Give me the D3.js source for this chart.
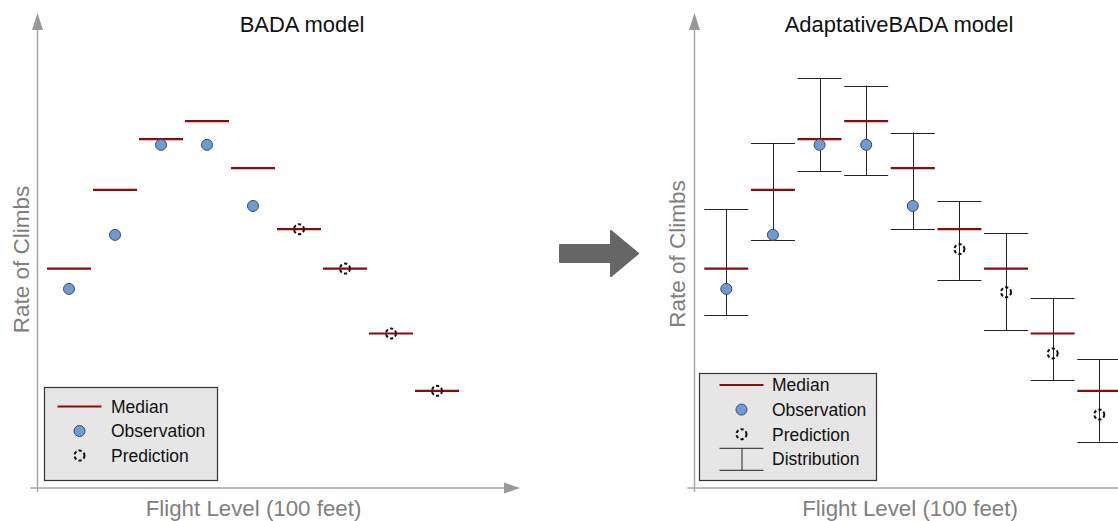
<!DOCTYPE html>
<html>
<head>
<meta charset="utf-8">
<script src="https://cdn.jsdelivr.net/npm/d3@7"></script>
<style>
  body { margin: 0; background: #fff; }
  svg { display: block; font-family: "Liberation Sans", Arial, sans-serif; }
</style>
</head>
<body>
<svg width="1118" height="521"></svg>
<script>
// donnees (unites arbitraires)
const levels = ["FL1", "FL2", "FL3", "FL4", "FL5", "FL6", "FL7", "FL8", "FL9"];
const medians = [46.3, 62.9, 73.6, 77.4, 67.5, 54.6, 46.3, 32.6, 20.5];
const observations = [42.0, 53.4, 72.4, 72.4, 59.5, null, null, null, null];
const predictionsBada = [null, null, null, null, null, 54.6, 46.3, 32.6, 20.5];
const predictionsAdaptive = [null, null, null, null, null, 50.4, 41.3, 28.4, 15.5];
const distLow = [36.5, 52.4, 66.8, 66.0, 54.6, 43.9, 33.3, 22.7, 9.8];
const distHigh = [58.8, 72.8, 86.5, 84.9, 75.0, 60.5, 53.8, 40.1, 27.2];

const titles = ["BADA model", "AdaptativeBADA model"];
const xLabel = "Flight Level (100 feet)";
const yLabel = "Rate of Climbs";

const svg = d3.select("svg");
const medianColor = "#8b0a0a";
const obsColor = "#6f9bd2";
const axisColor = "#a6a6a6";
const labelColor = "#7f7f7f";

// echelle Y commune
const y = d3.scaleLinear().domain([0, 100]).range([488, 14]);

function drawPanel(opts) {
  const g = svg.append("g");
  const x = d3.scalePoint().domain(levels).range([opts.x0, opts.x1]);
  const half = opts.half;

  // axes avec fleches
  g.append("line")
    .attr("x1", opts.axisX).attr("x2", opts.axisX)
    .attr("y1", 492).attr("y2", 28)
    .attr("stroke", axisColor).attr("stroke-width", 1.5);
  g.append("path")
    .attr("d", `M${opts.axisX - 5.5},30 L${opts.axisX},13 L${opts.axisX + 5.5},30 Z`)
    .attr("fill", "#999");
  g.append("line")
    .attr("x1", opts.axisX - 7).attr("x2", opts.xEnd - 15)
    .attr("y1", 488).attr("y2", 488)
    .attr("stroke", axisColor).attr("stroke-width", 1.5);
  g.append("path")
    .attr("d", `M${opts.xEnd - 16},482.5 L${opts.xEnd},488 L${opts.xEnd - 16},493.5 Z`)
    .attr("fill", "#999");

  // titre et libelles
  g.append("text")
    .attr("x", opts.titleX).attr("y", 32)
    .attr("text-anchor", "middle")
    .attr("font-size", 22).attr("fill", "#111")
    .text(opts.title);
  g.append("text")
    .attr("x", opts.xLabelX).attr("y", 516)
    .attr("text-anchor", "middle")
    .attr("font-size", 22.3).attr("fill", labelColor)
    .text(xLabel);
  g.append("text")
    .attr("transform", `translate(${opts.yLabelX},${opts.yLabelY}) rotate(-90)`)
    .attr("text-anchor", "middle")
    .attr("dy", "0.35em")
    .attr("font-size", 22.5).attr("fill", labelColor)
    .text(yLabel);

  // distribution (moustaches)
  if (opts.dist) {
    const wh = g.append("g").attr("stroke", "#222").attr("stroke-width", 1);
    levels.forEach((c, i) => {
      const cx = Math.round(x(c)) + 0.5;
      wh.append("line").attr("x1", cx).attr("x2", cx)
        .attr("y1", y(distLow[i])).attr("y2", y(distHigh[i]));
      [distLow[i], distHigh[i]].forEach(v => {
        wh.append("line")
          .attr("x1", x(c) - half).attr("x2", x(c) + half)
          .attr("y1", Math.round(y(v)) + 0.5).attr("y2", Math.round(y(v)) + 0.5);
      });
    });
  }

  // medianes
  g.selectAll(".median").data(medians).join("line")
    .attr("class", "median")
    .attr("x1", (d, i) => x(levels[i]) - half)
    .attr("x2", (d, i) => x(levels[i]) + half)
    .attr("y1", d => y(d)).attr("y2", d => y(d))
    .attr("stroke", medianColor).attr("stroke-width", 2.2);

  // observations
  g.selectAll(".obs").data(observations.map((v, i) => ({ c: levels[i], v })).filter(d => d.v !== null))
    .join("circle")
    .attr("class", "obs")
    .attr("cx", d => x(d.c)).attr("cy", d => y(d.v))
    .attr("r", 5.5)
    .attr("fill", obsColor).attr("stroke", "#3a4a5c").attr("stroke-width", 1);

  // predictions
  g.selectAll(".pred").data(opts.pred.map((v, i) => ({ c: levels[i], v })).filter(d => d.v !== null))
    .join("circle")
    .attr("class", "pred")
    .attr("cx", d => x(d.c)).attr("cy", d => y(d.v))
    .attr("r", 5)
    .attr("fill", "none").attr("stroke", "#111").attr("stroke-width", 2)
    .attr("stroke-dasharray", "3.2,2.3");

  // legende
  const lg = g.append("g");
  const L = opts.legend;
  lg.append("rect")
    .attr("x", L.x).attr("y", L.y).attr("width", L.w).attr("height", L.h)
    .attr("fill", "#e6e6e6").attr("stroke", "#333").attr("stroke-width", 1.2);
  const items = ["Median", "Observation", "Prediction"];
  if (opts.dist) items.push("Distribution");
  const symX = L.x + L.symDx;
  items.forEach((name, i) => {
    const ry = L.firstRow + i * L.step;
    lg.append("text")
      .attr("x", L.x + L.textDx).attr("y", ry).attr("dy", "0.36em")
      .attr("font-size", 17.5).attr("fill", "#111")
      .text(name);
    if (name === "Median") {
      lg.append("line").attr("x1", symX - 22).attr("x2", symX + 22)
        .attr("y1", ry).attr("y2", ry)
        .attr("stroke", medianColor).attr("stroke-width", 2);
    } else if (name === "Observation") {
      lg.append("circle").attr("cx", symX).attr("cy", ry).attr("r", 5.5)
        .attr("fill", obsColor).attr("stroke", "#3a4a5c");
    } else if (name === "Prediction") {
      lg.append("circle").attr("cx", symX).attr("cy", ry).attr("r", 5)
        .attr("fill", "none").attr("stroke", "#111").attr("stroke-width", 2)
        .attr("stroke-dasharray", "3.2,2.3");
    } else {
      const d = lg.append("g").attr("stroke", "#222");
      d.append("line").attr("x1", symX - 22).attr("x2", symX + 22).attr("y1", ry - 10.5).attr("y2", ry - 10.5);
      d.append("line").attr("x1", symX - 22).attr("x2", symX + 22).attr("y1", ry + 11.5).attr("y2", ry + 11.5);
      d.append("line").attr("x1", symX + 0.5).attr("x2", symX + 0.5).attr("y1", ry - 10.5).attr("y2", ry + 11.5);
    }
  });
}

drawPanel({
  title: titles[0], titleX: 302, xLabelX: 253.5, yLabelX: 21, yLabelY: 259.5,
  axisX: 37.5, xEnd: 520, x0: 69, x1: 437, half: 22,
  pred: predictionsBada, dist: false,
  legend: { x: 44.5, y: 387.5, w: 173, h: 93, firstRow: 406.5, step: 24.5, symDx: 35, textDx: 66.5 }
});

drawPanel({
  title: titles[1], titleX: 899, xLabelX: 910, yLabelX: 677, yLabelY: 254,
  axisX: 694.5, xEnd: 1135, x0: 726.3, x1: 1099.3, half: 22,
  pred: predictionsAdaptive, dist: true,
  legend: { x: 699.5, y: 373.5, w: 177, h: 107, firstRow: 385, step: 24.6, symDx: 42, textDx: 72.5 }
});

// fleche entre les deux graphiques
svg.append("path")
  .attr("d", "M560,245 H611 V231 L638,253.5 L611,276 V262 H560 Z")
  .attr("fill", "#666").attr("stroke", "#666").attr("stroke-width", 2)
  .attr("stroke-linejoin", "round");
</script>
</body>
</html>
